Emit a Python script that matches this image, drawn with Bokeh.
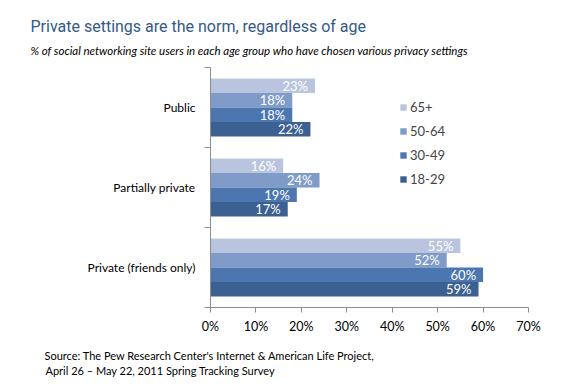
from bokeh.plotting import figure
from bokeh.models import (ColumnDataSource, Range1d, FixedTicker, Title, Legend, LegendItem)
from bokeh.core.properties import value
from bokeh.transform import dodge
from bokeh.embed import file_html
from bokeh.resources import INLINE

categories = ["Public", "Partially private", "Private (friends only)"]
series = ["65+", "50-64", "30-49", "18-29"]
v_65 = [23, 16, 55]
v_50 = [18, 24, 52]
v_30 = [18, 19, 60]
v_18 = [22, 17, 59]
values = [v_65, v_50, v_30, v_18]
colors = ["#B9C5DE", "#7F9BC8", "#4C76AF", "#3C6091"]
x_ticks = [0, 10, 20, 30, 40, 50, 60, 70]

W, H = 577, 377
FL, FR, FT, FB = 210, 528, 67, 307  # frame edges in page pixels
p = figure(width=W, height=H, output_backend="svg", toolbar_location=None,
           x_range=Range1d(0, 70), y_range=Range1d(2.5, -0.5),
           min_border_left=FL, min_border_right=W - FR, min_border_top=FT, min_border_bottom=H - FB,
           background_fill_color="white", border_fill_color="white")
p.outline_line_color = None
p.grid.visible = False

ypos = list(range(len(categories)))
bh = 0.181
offsets = [-1.5 * bh, -0.5 * bh, 0.5 * bh, 1.5 * bh]
items = []
for s, vals, c, off in zip(series, values, colors, offsets):
    src = ColumnDataSource(dict(y=ypos, v=vals, lab=[f"{v}%" for v in vals]))
    r = p.hbar(y=dodge("y", off), right="v", left=0, height=bh, source=src,
               fill_color=c, line_color=None)
    p.text(x="v", y=dodge("y", off), text="lab", source=src, text_color="white",
           text_font=value("Lato"), text_font_size="13px", text_align="right",
           text_baseline="middle", x_offset=-7)
    items.append(LegendItem(label=s, renderers=[r]))

leg = Legend(items=items, location=(189, 120), glyph_width=8, glyph_height=8,
             label_text_font="Lato", label_text_font_size="13px", label_height=14,
             spacing=8, padding=0, margin=0, border_line_color=None,
             background_fill_alpha=0, label_standoff=3)
p.add_layout(leg)

# axes
p.xaxis.ticker = FixedTicker(ticks=x_ticks)
p.xaxis.major_label_overrides = {t: f"{t}%" for t in x_ticks}
p.xaxis.minor_tick_line_color = None
p.xaxis.major_tick_out = 5
p.xaxis.major_tick_in = 0
p.xaxis.major_label_standoff = 6
p.xaxis.major_label_text_font = "Lato"
p.xaxis.major_label_text_font_size = "12.5px"
p.xaxis.major_label_text_color = "black"
p.xaxis.axis_line_color = "#8C8C8C"
p.xaxis.major_tick_line_color = "#8C8C8C"

p.yaxis.ticker = FixedTicker(ticks=ypos, minor_ticks=[-0.5, 0.5, 1.5, 2.5])
p.yaxis.major_label_overrides = {i: c for i, c in enumerate(categories)}
p.yaxis.major_tick_out = 0
p.yaxis.major_tick_in = 0
p.yaxis.minor_tick_out = 6
p.yaxis.minor_tick_in = 0
p.yaxis.major_label_standoff = 9
p.yaxis.major_label_text_font = "Lato"
p.yaxis.major_label_text_font_size = "12px"
p.yaxis.major_label_text_color = "black"
p.yaxis.axis_line_color = "#8C8C8C"
p.yaxis.minor_tick_line_color = "#8C8C8C"

def title(text, x, side, standoff=0, **kw):
    p.add_layout(Title(text=text, align="left", offset=x - FL, standoff=standoff, **kw), side)

def spacer(side, standoff):
    p.add_layout(Title(text=" ", standoff=standoff, text_font_size="1px"), side)

# above: first added is nearest the frame
spacer("above", 8)
title("% of social networking site users in each age group who have chosen various privacy settings",
      30, "above", standoff=0, text_font="Lato", text_font_size="11.5px",
      text_font_style="italic", text_color="black")
title("Private settings are the norm, regardless of age", 30, "above", standoff=12,
      text_font="Roboto", text_font_size="16px", text_font_style="normal",
      text_color="#34598A")
# below: after the x axis
spacer("below", 7)
title("Source: The Pew Research Center's Internet & American Life Project,", 44, "below",
      standoff=0, text_font="Lato", text_font_size="11px", text_font_style="normal",
      text_color="black")
title("April 26 \u2013 May 22, 2011 Spring Tracking Survey", 45, "below", standoff=0,
      text_font="Lato", text_font_size="11px", text_font_style="normal", text_color="black")

open("out.html", "w").write(file_html(p, INLINE))
